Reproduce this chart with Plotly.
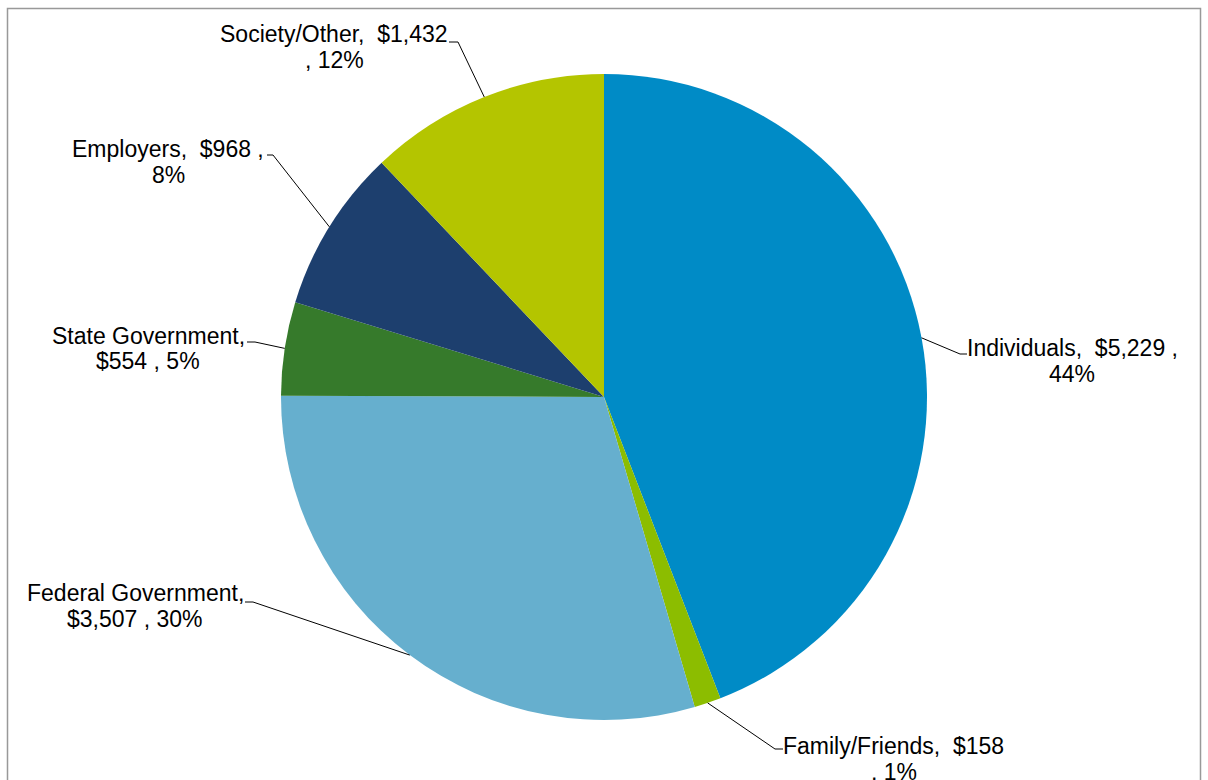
import math
import plotly.graph_objects as go

# Funding sources (dollar amounts) in slice order, clockwise from 12 o'clock
categories = ["Individuals", "Family/Friends", "Federal Government",
              "State Government", "Employers", "Society/Other"]
amounts = [5229, 158, 3507, 554, 968, 1432]
colors = ["#008BC6", "#8CBD00", "#66AFCE", "#367A2B", "#1D3F6E", "#B4C500"]

# Label text lines for each slice
label_lines = {
    "Individuals": ["Individuals,\u00a0 $5,229 ,", "44%"],
    "Family/Friends": ["Family/Friends,\u00a0 $158", ", 1%"],
    "Federal Government": ["Federal Government,", "$3,507 , 30%"],
    "State Government": ["State Government,", "$554 , 5%"],
    "Employers": ["Employers,\u00a0 $968 ,", "8%"],
    "Society/Other": ["Society/Other,\u00a0 $1,432", ", 12%"],
}

W, H = 1208, 780
CX, CY, R = 604, 397, 323  # pie centre and radius in pixels

# Label placement (pixels): centre x, first/second line y, elbow point, tick end
label_layout = {
    "Individuals": dict(x=1072, y1=348, y2=374, elbow=(960, 354), tick=(967, 354)),
    "Family/Friends": dict(x=894, y1=746, y2=772, elbow=(775, 749), tick=(783, 749)),
    "Federal Government": dict(x=135, y1=593, y2=619, elbow=(253, 602), tick=(245, 602)),
    "State Government": dict(x=148, y1=336, y2=361, elbow=(255, 342), tick=(247, 342)),
    "Employers": dict(x=168, y1=149, y2=175, elbow=(273, 155), tick=(267, 155)),
    "Society/Other": dict(x=334, y1=34, y2=60, elbow=(458, 42), tick=(449, 42)),
}


def px(x):
    return x / W


def py(y):
    return 1 - y / H


fig = go.Figure()
fig.add_trace(go.Pie(
    labels=categories,
    values=amounts,
    sort=False,
    direction="clockwise",
    rotation=0,
    marker=dict(colors=colors, line=dict(width=0)),
    textinfo="none",
    hoverinfo="label+value+percent",
    showlegend=False,
    domain=dict(x=[px(CX - R), px(CX + R)], y=[py(CY + R), py(CY - R)]),
))

shapes = []
annotations = []
total = sum(amounts)
cum = 0.0
font = dict(family="Arial, Liberation Sans, sans-serif", size=23, color="#000000")
for name, val in zip(categories, amounts):
    mid = (cum + val / 2) / total * 2 * math.pi
    cum += val
    ex = CX + R * math.sin(mid)
    ey = CY - R * math.cos(mid)
    lay = label_layout[name]
    (bx, by), (tx, ty) = lay["elbow"], lay["tick"]
    shapes.append(dict(type="path", xref="paper", yref="paper",
                       path=f"M {px(ex)} {py(ey)} L {px(bx)} {py(by)} L {px(tx)} {py(ty)}",
                       line=dict(color="#000000", width=1)))
    l1, l2 = label_lines[name]
    for txt, yy in ((l1, lay["y1"]), (l2, lay["y2"])):
        annotations.append(dict(xref="paper", yref="paper", x=px(lay["x"]), y=py(yy),
                                text=txt, showarrow=False, xanchor="center",
                                yanchor="middle", font=font))

# Chart-area frame (bottom edge runs past the page)
shapes.append(dict(type="rect", xref="paper", yref="paper",
                   x0=px(7.5), x1=px(1200.5), y0=py(820), y1=py(8.5),
                   line=dict(color="#999999", width=1.5), layer="below"))

fig.update_layout(
    width=W, height=H,
    margin=dict(l=0, r=0, t=0, b=0),
    paper_bgcolor="#FFFFFF",
    plot_bgcolor="#FFFFFF",
    shapes=shapes,
    annotations=annotations,
)

fig.write_html("out.html")
